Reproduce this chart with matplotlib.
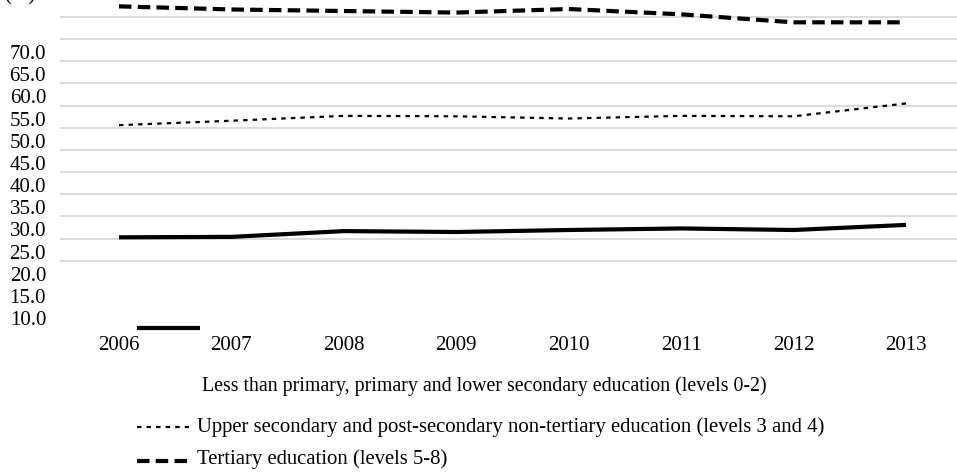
import matplotlib.pyplot as plt
import numpy as np

plt.rcParams['font.family'] = ['Liberation Serif', 'DejaVu Serif']

# 数据
years = [2006, 2007, 2008, 2009, 2010, 2011, 2012, 2013]
low_edu = [28.2, 28.3, 29.6, 29.4, 29.85, 30.2, 29.85, 31.0]
mid_edu = [53.5, 54.5, 55.6, 55.5, 55.0, 55.6, 55.5, 58.4]
high_edu = [80.3, 79.6, 79.25, 78.9, 79.7, 78.5, 76.7, 76.7]
y_ticks = [10, 15, 20, 25, 30, 35, 40, 45, 50, 55, 60, 65, 70]
legend_labels = ['Less than primary, primary and lower secondary education (levels 0-2)',
                 'Upper secondary and post-secondary non-tertiary education (levels 3 and 4)',
                 'Tertiary education (levels 5-8)']

W, H = 957, 472
fs = 15
fig = plt.figure(figsize=(W / 100, H / 100), dpi=100)

# 绘图区（像素位置换算成比例）
ax = fig.add_axes([60 / W, 1 - 330 / H, (W - 60) / W, 330 / H])
ax.set_xlim(2006 - 59 / 112.43, 2006 + 838 / 112.43)
ax.set_ylim(10 - 12 / 4.433, 10 + 318 / 4.433)

# 网格线（原图与刻度标签错位）
for g in np.arange(22.9, 80, 5):
    ax.axhline(g, color='#d9d9d9', lw=1.3, zorder=0)

ax.plot(years, low_edu, color='black', lw=3, solid_capstyle='butt')
ax.plot(years, mid_edu, color='black', lw=1.6, linestyle=(0, (2, 2.3)))
ax.plot(years, high_edu, color='black', lw=3, linestyle=(0, (3, 1.5)))

ax.set_xticks(years)
ax.set_xticklabels([str(y) for y in years], fontsize=fs)
ax.set_yticks(y_ticks)
ax.set_yticklabels(['%.1f' % v for v in y_ticks], fontsize=fs)
ax.tick_params(axis='both', length=0)
ax.tick_params(axis='x', pad=4)
ax.tick_params(axis='y', pad=10)
for s in ax.spines.values():
    s.set_visible(False)

fig.text(20 / W, 1.0, '(%)', fontsize=fs, ha='center', va='baseline')

# 图例（手动绘制，保持原图位置）
lax = fig.add_axes([0, 0, 1, 1])
lax.set_xlim(0, W)
lax.set_ylim(H, 0)
lax.axis('off')
lax.plot([137, 200], [328, 328], color='black', lw=3, solid_capstyle='butt')
lax.plot([137, 189], [427, 427], color='black', lw=1.6, linestyle=(0, (2, 2.3)))
lax.plot([137, 189], [461, 461], color='black', lw=3, linestyle=(0, (3, 1.5)))
lax.text(202, 386, legend_labels[0], fontsize=14.3, va='center')
lax.text(197, 427, legend_labels[1], fontsize=14.95, va='center')
lax.text(197, 459, legend_labels[2], fontsize=14.95, va='center')

fig.savefig('out.png', dpi=100)
